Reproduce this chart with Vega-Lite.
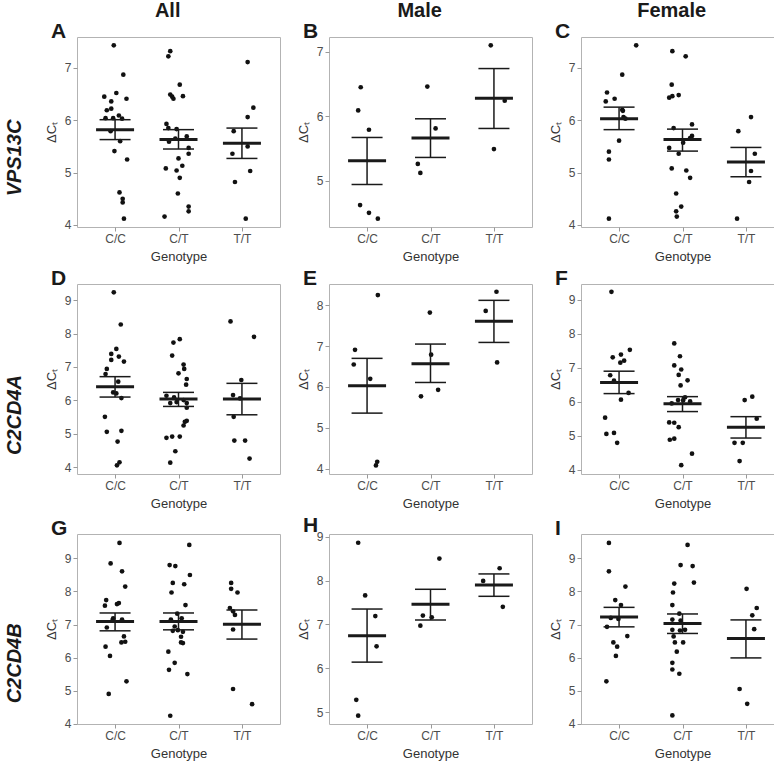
{
"$schema": "https://vega.github.io/schema/vega-lite/v6.json",
"padding": {"left": 4, "top": 0, "right": 0, "bottom": 0},
"background": "white",
"datasets": {
"sum": [
{"p":"A","g":1,"m":5.82,"lo":5.63,"hi":6.01},{"p":"A","g":2,"m":5.63,"lo":5.45,"hi":5.82},{"p":"A","g":3,"m":5.56,"lo":5.27,"hi":5.85},
{"p":"B","g":1,"m":5.31,"lo":4.94,"hi":5.67},{"p":"B","g":2,"m":5.66,"lo":5.36,"hi":5.96},{"p":"B","g":3,"m":6.28,"lo":5.81,"hi":6.74},
{"p":"C","g":1,"m":6.03,"lo":5.82,"hi":6.25},{"p":"C","g":2,"m":5.63,"lo":5.41,"hi":5.83},{"p":"C","g":3,"m":5.20,"lo":4.92,"hi":5.48},
{"p":"D","g":1,"m":6.41,"lo":6.10,"hi":6.71},{"p":"D","g":2,"m":6.04,"lo":5.82,"hi":6.24},{"p":"D","g":3,"m":6.04,"lo":5.57,"hi":6.51},
{"p":"E","g":1,"m":6.03,"lo":5.36,"hi":6.70},{"p":"E","g":2,"m":6.57,"lo":6.11,"hi":7.05},{"p":"E","g":3,"m":7.61,"lo":7.09,"hi":8.12},
{"p":"F","g":1,"m":6.57,"lo":6.24,"hi":6.90},{"p":"F","g":2,"m":5.94,"lo":5.71,"hi":6.15},{"p":"F","g":3,"m":5.25,"lo":4.93,"hi":5.56},
{"p":"G","g":1,"m":7.09,"lo":6.81,"hi":7.35},{"p":"G","g":2,"m":7.09,"lo":6.84,"hi":7.35},{"p":"G","g":3,"m":7.01,"lo":6.56,"hi":7.44},
{"p":"H","g":1,"m":6.74,"lo":6.14,"hi":7.35},{"p":"H","g":2,"m":7.46,"lo":7.10,"hi":7.80},{"p":"H","g":3,"m":7.90,"lo":7.64,"hi":8.15},
{"p":"I","g":1,"m":7.23,"lo":6.93,"hi":7.52},{"p":"I","g":2,"m":7.03,"lo":6.73,"hi":7.32},{"p":"I","g":3,"m":6.58,"lo":5.99,"hi":7.14}
],
"pts": [
{"p":"A","x":0.98,"v":7.43},{"p":"A","x":1.13,"v":6.87},{"p":"A","x":0.83,"v":6.45},{"p":"A","x":1.02,"v":6.52},{"p":"A","x":1.18,"v":6.41},{"p":"A","x":0.94,"v":6.36},{"p":"A","x":0.87,"v":6.19},{"p":"A","x":0.94,"v":6.22},{"p":"A","x":0.85,"v":6.04},{"p":"A","x":0.97,"v":6.04},{"p":"A","x":1.06,"v":6.09},{"p":"A","x":1.11,"v":6.03},{"p":"A","x":0.93,"v":5.79},{"p":"A","x":1.08,"v":5.60},{"p":"A","x":0.99,"v":5.41},{"p":"A","x":1.19,"v":5.25},{"p":"A","x":1.07,"v":4.62},{"p":"A","x":1.12,"v":4.50},{"p":"A","x":1.12,"v":4.43},{"p":"A","x":1.14,"v":4.12},
{"p":"A","x":1.87,"v":7.32},{"p":"A","x":1.84,"v":7.22},{"p":"A","x":2.02,"v":6.68},{"p":"A","x":1.87,"v":6.49},{"p":"A","x":1.90,"v":6.45},{"p":"A","x":1.92,"v":6.41},{"p":"A","x":2.07,"v":6.46},{"p":"A","x":1.81,"v":5.93},{"p":"A","x":1.84,"v":5.85},{"p":"A","x":1.97,"v":5.83},{"p":"A","x":1.85,"v":5.59},{"p":"A","x":1.95,"v":5.65},{"p":"A","x":2.13,"v":5.69},{"p":"A","x":2.16,"v":5.47},{"p":"A","x":2.16,"v":5.36},{"p":"A","x":2.00,"v":5.27},{"p":"A","x":1.80,"v":5.08},{"p":"A","x":2.06,"v":5.13},{"p":"A","x":1.97,"v":5.04},{"p":"A","x":2.02,"v":4.90},{"p":"A","x":1.99,"v":4.60},{"p":"A","x":2.16,"v":4.35},{"p":"A","x":2.16,"v":4.26},{"p":"A","x":1.78,"v":4.16},
{"p":"A","x":3.09,"v":7.11},{"p":"A","x":3.18,"v":6.24},{"p":"A","x":3.09,"v":6.06},{"p":"A","x":2.87,"v":5.79},{"p":"A","x":2.85,"v":5.36},{"p":"A","x":3.09,"v":5.50},{"p":"A","x":3.13,"v":5.03},{"p":"A","x":2.89,"v":4.82},{"p":"A","x":3.06,"v":4.12},
{"p":"B","x":0.90,"v":6.45},{"p":"B","x":0.86,"v":6.09},{"p":"B","x":1.03,"v":5.79},{"p":"B","x":0.89,"v":4.62},{"p":"B","x":1.03,"v":4.50},{"p":"B","x":1.17,"v":4.41},
{"p":"B","x":1.95,"v":6.46},{"p":"B","x":2.08,"v":5.81},{"p":"B","x":1.80,"v":5.26},{"p":"B","x":1.84,"v":5.12},
{"p":"B","x":2.95,"v":7.10},{"p":"B","x":3.17,"v":6.24},{"p":"B","x":3.00,"v":5.49},
{"p":"C","x":1.27,"v":7.43},{"p":"C","x":1.05,"v":6.87},{"p":"C","x":0.81,"v":6.53},{"p":"C","x":0.93,"v":6.41},{"p":"C","x":0.79,"v":6.36},{"p":"C","x":1.05,"v":6.20},{"p":"C","x":1.06,"v":6.18},{"p":"C","x":1.10,"v":6.03},{"p":"C","x":1.07,"v":6.06},{"p":"C","x":1.00,"v":5.61},{"p":"C","x":0.84,"v":5.40},{"p":"C","x":0.84,"v":5.25},{"p":"C","x":0.84,"v":4.12},
{"p":"C","x":1.84,"v":7.32},{"p":"C","x":2.05,"v":7.22},{"p":"C","x":1.83,"v":6.68},{"p":"C","x":1.79,"v":6.43},{"p":"C","x":1.84,"v":6.46},{"p":"C","x":1.94,"v":6.48},{"p":"C","x":2.15,"v":5.92},{"p":"C","x":1.86,"v":5.85},{"p":"C","x":2.15,"v":5.70},{"p":"C","x":2.12,"v":5.66},{"p":"C","x":2.01,"v":5.57},{"p":"C","x":1.79,"v":5.47},{"p":"C","x":1.94,"v":5.36},{"p":"C","x":1.83,"v":5.08},{"p":"C","x":2.06,"v":5.04},{"p":"C","x":2.12,"v":4.90},{"p":"C","x":1.90,"v":4.60},{"p":"C","x":1.98,"v":4.35},{"p":"C","x":1.90,"v":4.26},{"p":"C","x":1.91,"v":4.16},
{"p":"C","x":3.08,"v":6.06},{"p":"C","x":2.88,"v":5.79},{"p":"C","x":3.14,"v":5.36},{"p":"C","x":3.08,"v":5.03},{"p":"C","x":3.05,"v":4.82},{"p":"C","x":2.86,"v":4.12},
{"p":"D","x":0.98,"v":9.23},{"p":"D","x":1.09,"v":8.27},{"p":"D","x":1.02,"v":7.54},{"p":"D","x":0.94,"v":7.39},{"p":"D","x":1.06,"v":7.31},{"p":"D","x":0.94,"v":7.21},{"p":"D","x":1.14,"v":7.16},{"p":"D","x":0.87,"v":6.94},{"p":"D","x":0.85,"v":6.79},{"p":"D","x":1.05,"v":6.56},{"p":"D","x":0.97,"v":6.24},{"p":"D","x":1.02,"v":6.21},{"p":"D","x":1.10,"v":6.07},{"p":"D","x":0.84,"v":5.51},{"p":"D","x":0.87,"v":5.06},{"p":"D","x":1.10,"v":5.09},{"p":"D","x":1.04,"v":4.77},{"p":"D","x":1.07,"v":4.15},{"p":"D","x":1.03,"v":4.06},
{"p":"D","x":2.02,"v":7.83},{"p":"D","x":1.92,"v":7.73},{"p":"D","x":1.90,"v":7.34},{"p":"D","x":2.08,"v":7.07},{"p":"D","x":2.09,"v":6.94},{"p":"D","x":2.00,"v":6.81},{"p":"D","x":2.13,"v":6.64},{"p":"D","x":2.12,"v":6.47},{"p":"D","x":1.81,"v":6.14},{"p":"D","x":1.93,"v":6.09},{"p":"D","x":1.87,"v":5.92},{"p":"D","x":1.97,"v":5.95},{"p":"D","x":2.08,"v":6.01},{"p":"D","x":2.13,"v":5.92},{"p":"D","x":2.13,"v":5.78},{"p":"D","x":2.13,"v":5.39},{"p":"D","x":2.10,"v":5.36},{"p":"D","x":2.08,"v":5.25},{"p":"D","x":1.81,"v":4.88},{"p":"D","x":1.90,"v":4.92},{"p":"D","x":2.02,"v":4.92},{"p":"D","x":1.95,"v":4.48},{"p":"D","x":1.87,"v":4.14},
{"p":"D","x":2.82,"v":8.36},{"p":"D","x":3.19,"v":7.90},{"p":"D","x":2.99,"v":6.61},{"p":"D","x":2.86,"v":6.16},{"p":"D","x":2.97,"v":6.06},{"p":"D","x":2.87,"v":5.51},{"p":"D","x":2.88,"v":4.80},{"p":"D","x":3.05,"v":4.80},{"p":"D","x":3.12,"v":4.26},
{"p":"E","x":1.17,"v":8.25},{"p":"E","x":0.81,"v":6.91},{"p":"E","x":0.79,"v":6.55},{"p":"E","x":1.05,"v":6.20},{"p":"E","x":1.16,"v":4.17},{"p":"E","x":1.14,"v":4.08},
{"p":"E","x":1.99,"v":7.82},{"p":"E","x":2.01,"v":6.79},{"p":"E","x":2.12,"v":5.93},{"p":"E","x":1.85,"v":5.77},
{"p":"E","x":3.04,"v":8.33},{"p":"E","x":2.87,"v":7.86},{"p":"E","x":3.05,"v":6.60},
{"p":"F","x":0.88,"v":9.24},{"p":"F","x":1.17,"v":7.53},{"p":"F","x":1.03,"v":7.39},{"p":"F","x":0.90,"v":7.31},{"p":"F","x":1.08,"v":7.21},{"p":"F","x":1.02,"v":7.15},{"p":"F","x":0.86,"v":6.78},{"p":"F","x":0.92,"v":6.62},{"p":"F","x":1.15,"v":6.26},{"p":"F","x":1.03,"v":6.06},{"p":"F","x":0.78,"v":5.53},{"p":"F","x":0.80,"v":5.05},{"p":"F","x":0.92,"v":5.08},{"p":"F","x":0.97,"v":4.79},
{"p":"F","x":1.87,"v":7.72},{"p":"F","x":1.96,"v":7.34},{"p":"F","x":1.87,"v":7.07},{"p":"F","x":1.98,"v":6.95},{"p":"F","x":1.94,"v":6.79},{"p":"F","x":2.08,"v":6.63},{"p":"F","x":1.97,"v":6.48},{"p":"F","x":2.04,"v":6.13},{"p":"F","x":1.93,"v":6.05},{"p":"F","x":2.01,"v":6.04},{"p":"F","x":2.12,"v":6.01},{"p":"F","x":1.83,"v":5.95},{"p":"F","x":1.79,"v":5.39},{"p":"F","x":1.87,"v":5.38},{"p":"F","x":1.94,"v":5.25},{"p":"F","x":1.80,"v":4.88},{"p":"F","x":1.87,"v":4.91},{"p":"F","x":2.15,"v":4.47},{"p":"F","x":1.98,"v":4.13},
{"p":"F","x":3.10,"v":6.15},{"p":"F","x":2.98,"v":6.05},{"p":"F","x":3.17,"v":5.50},{"p":"F","x":2.82,"v":4.79},{"p":"F","x":2.95,"v":4.79},{"p":"F","x":2.90,"v":4.25},
{"p":"G","x":1.07,"v":9.47},{"p":"G","x":0.93,"v":8.85},{"p":"G","x":1.11,"v":8.61},{"p":"G","x":1.16,"v":8.15},{"p":"G","x":0.86,"v":7.74},{"p":"G","x":0.84,"v":7.57},{"p":"G","x":1.03,"v":7.62},{"p":"G","x":1.06,"v":7.65},{"p":"G","x":0.97,"v":7.19},{"p":"G","x":1.11,"v":7.15},{"p":"G","x":0.96,"v":7.13},{"p":"G","x":0.87,"v":6.91},{"p":"G","x":1.14,"v":6.64},{"p":"G","x":1.10,"v":6.46},{"p":"G","x":1.16,"v":6.48},{"p":"G","x":0.85,"v":6.33},{"p":"G","x":0.92,"v":6.05},{"p":"G","x":1.18,"v":5.28},{"p":"G","x":0.90,"v":4.90},
{"p":"G","x":2.17,"v":9.41},{"p":"G","x":1.86,"v":8.80},{"p":"G","x":1.95,"v":8.77},{"p":"G","x":2.18,"v":8.50},{"p":"G","x":1.91,"v":8.26},{"p":"G","x":2.09,"v":8.22},{"p":"G","x":1.89,"v":7.97},{"p":"G","x":2.11,"v":7.59},{"p":"G","x":1.98,"v":7.33},{"p":"G","x":1.88,"v":7.15},{"p":"G","x":2.05,"v":7.19},{"p":"G","x":1.94,"v":6.94},{"p":"G","x":1.91,"v":6.81},{"p":"G","x":1.99,"v":6.83},{"p":"G","x":2.07,"v":6.78},{"p":"G","x":2.04,"v":6.63},{"p":"G","x":2.04,"v":6.46},{"p":"G","x":2.07,"v":6.44},{"p":"G","x":1.84,"v":6.18},{"p":"G","x":1.94,"v":5.84},{"p":"G","x":1.85,"v":5.63},{"p":"G","x":2.14,"v":5.50},{"p":"G","x":1.87,"v":4.24},
{"p":"G","x":2.83,"v":8.26},{"p":"G","x":2.83,"v":8.08},{"p":"G","x":2.93,"v":7.97},{"p":"G","x":2.81,"v":7.50},{"p":"G","x":2.86,"v":7.40},{"p":"G","x":2.89,"v":7.29},{"p":"G","x":2.86,"v":6.85},{"p":"G","x":2.86,"v":5.05},{"p":"G","x":3.16,"v":4.59},
{"p":"H","x":0.86,"v":8.86},{"p":"H","x":0.97,"v":7.66},{"p":"H","x":1.13,"v":7.19},{"p":"H","x":1.15,"v":6.50},{"p":"H","x":0.83,"v":5.28},{"p":"H","x":0.86,"v":4.92},
{"p":"H","x":2.14,"v":8.50},{"p":"H","x":1.88,"v":7.20},{"p":"H","x":2.02,"v":7.16},{"p":"H","x":1.84,"v":6.97},
{"p":"H","x":3.09,"v":8.28},{"p":"H","x":2.83,"v":7.99},{"p":"H","x":3.14,"v":7.40},
{"p":"I","x":0.84,"v":9.47},{"p":"I","x":0.84,"v":8.61},{"p":"I","x":1.10,"v":8.15},{"p":"I","x":0.94,"v":7.74},{"p":"I","x":1.03,"v":7.59},{"p":"I","x":0.87,"v":7.20},{"p":"I","x":0.99,"v":7.17},{"p":"I","x":0.81,"v":6.93},{"p":"I","x":1.13,"v":6.65},{"p":"I","x":0.91,"v":6.46},{"p":"I","x":0.97,"v":6.33},{"p":"I","x":0.95,"v":6.05},{"p":"I","x":0.80,"v":5.28},
{"p":"I","x":2.08,"v":9.41},{"p":"I","x":1.97,"v":8.80},{"p":"I","x":2.16,"v":8.77},{"p":"I","x":1.87,"v":8.24},{"p":"I","x":2.18,"v":8.27},{"p":"I","x":1.85,"v":7.97},{"p":"I","x":1.84,"v":7.59},{"p":"I","x":1.95,"v":7.33},{"p":"I","x":1.84,"v":7.15},{"p":"I","x":1.97,"v":7.12},{"p":"I","x":1.84,"v":6.84},{"p":"I","x":1.96,"v":6.82},{"p":"I","x":2.04,"v":6.84},{"p":"I","x":1.86,"v":6.64},{"p":"I","x":1.88,"v":6.46},{"p":"I","x":2.01,"v":6.46},{"p":"I","x":1.91,"v":6.18},{"p":"I","x":1.84,"v":5.84},{"p":"I","x":1.84,"v":5.64},{"p":"I","x":1.95,"v":5.51},{"p":"I","x":1.84,"v":4.25},
{"p":"I","x":3.01,"v":8.08},{"p":"I","x":3.17,"v":7.50},{"p":"I","x":3.10,"v":7.28},{"p":"I","x":3.13,"v":6.86},{"p":"I","x":2.90,"v":5.05},{"p":"I","x":3.02,"v":4.60}
]
},
"vconcat": [
{"hconcat": [
 {"vconcat": [
  {"width": 203, "height": 190, "title": {"text": "A"},
   "layer": [
    {"data": {"name": "pts"}, "transform": [{"filter": "datum.p=='A'"}], "mark": "circle",
     "encoding": {"x": {"field": "x", "type": "quantitative", "title": "Genotype", "scale": {"domain": [0.4, 3.6], "nice": false, "zero": false}, "axis": {"values": [1, 2, 3], "labelExpr": "datum.value==1?'C/C':datum.value==2?'C/T':'T/T'"}},
                  "y": {"field": "v", "type": "quantitative", "title": "ΔCₜ", "scale": {"domain": [3.96, 7.59], "nice": false, "zero": false}, "axis": {"values": [4, 5, 6, 7], "format": "d", "tickCount": 12}}}},
    {"data": {"name": "sum"}, "transform": [{"filter": "datum.p=='A'"}], "mark": "rule", "encoding": {"x": {"field": "g", "type": "quantitative", "title": "Genotype"}, "y": {"field": "lo", "type": "quantitative", "title": "ΔCₜ"}, "y2": {"field": "hi"}}},
    {"data": {"name": "sum"}, "transform": [{"filter": "datum.p=='A'"}, {"fold": ["lo", "hi"], "as": ["k", "b"]}], "mark": {"type": "tick", "orient": "horizontal", "size": 31, "thickness": 1.5}, "encoding": {"x": {"field": "g", "type": "quantitative", "title": "Genotype"}, "y": {"field": "b", "type": "quantitative", "title": "ΔCₜ"}}},
    {"data": {"name": "sum"}, "transform": [{"filter": "datum.p=='A'"}], "mark": {"type": "tick", "orient": "horizontal", "size": 38, "thickness": 3}, "encoding": {"x": {"field": "g", "type": "quantitative", "title": "Genotype"}, "y": {"field": "m", "type": "quantitative", "title": "ΔCₜ"}}}
   ]}
 ], "title": {"text": "All", "anchor": "middle", "frame": "bounds", "fontSize": 20, "fontWeight": "bold", "dx": 5, "offset": 0}},
 {"vconcat": [
  {"width": 203, "height": 190, "title": {"text": "B"},
   "layer": [
    {"data": {"name": "pts"}, "transform": [{"filter": "datum.p=='B'"}], "mark": "circle",
     "encoding": {"x": {"field": "x", "type": "quantitative", "title": "Genotype", "scale": {"domain": [0.4, 3.6], "nice": false, "zero": false}, "axis": {"values": [1, 2, 3], "labelExpr": "datum.value==1?'C/C':datum.value==2?'C/T':'T/T'"}},
                  "y": {"field": "v", "type": "quantitative", "title": "ΔCₜ", "scale": {"domain": [4.28, 7.23], "nice": false, "zero": false}, "axis": {"values": [5, 6, 7], "format": "d", "tickCount": 12}}}},
    {"data": {"name": "sum"}, "transform": [{"filter": "datum.p=='B'"}], "mark": "rule", "encoding": {"x": {"field": "g", "type": "quantitative", "title": "Genotype"}, "y": {"field": "lo", "type": "quantitative", "title": "ΔCₜ"}, "y2": {"field": "hi"}}},
    {"data": {"name": "sum"}, "transform": [{"filter": "datum.p=='B'"}, {"fold": ["lo", "hi"], "as": ["k", "b"]}], "mark": {"type": "tick", "orient": "horizontal", "size": 31, "thickness": 1.5}, "encoding": {"x": {"field": "g", "type": "quantitative", "title": "Genotype"}, "y": {"field": "b", "type": "quantitative", "title": "ΔCₜ"}}},
    {"data": {"name": "sum"}, "transform": [{"filter": "datum.p=='B'"}], "mark": {"type": "tick", "orient": "horizontal", "size": 38, "thickness": 3}, "encoding": {"x": {"field": "g", "type": "quantitative", "title": "Genotype"}, "y": {"field": "m", "type": "quantitative", "title": "ΔCₜ"}}}
   ]}
 ], "title": {"text": "Male", "anchor": "middle", "frame": "bounds", "fontSize": 20, "fontWeight": "bold", "dx": 5, "offset": 0}},
 {"vconcat": [
  {"width": 203, "height": 190, "title": {"text": "C"},
   "layer": [
    {"data": {"name": "pts"}, "transform": [{"filter": "datum.p=='C'"}], "mark": "circle",
     "encoding": {"x": {"field": "x", "type": "quantitative", "title": "Genotype", "scale": {"domain": [0.4, 3.6], "nice": false, "zero": false}, "axis": {"values": [1, 2, 3], "labelExpr": "datum.value==1?'C/C':datum.value==2?'C/T':'T/T'"}},
                  "y": {"field": "v", "type": "quantitative", "title": "ΔCₜ", "scale": {"domain": [3.96, 7.59], "nice": false, "zero": false}, "axis": {"values": [4, 5, 6, 7], "format": "d", "tickCount": 12}}}},
    {"data": {"name": "sum"}, "transform": [{"filter": "datum.p=='C'"}], "mark": "rule", "encoding": {"x": {"field": "g", "type": "quantitative", "title": "Genotype"}, "y": {"field": "lo", "type": "quantitative", "title": "ΔCₜ"}, "y2": {"field": "hi"}}},
    {"data": {"name": "sum"}, "transform": [{"filter": "datum.p=='C'"}, {"fold": ["lo", "hi"], "as": ["k", "b"]}], "mark": {"type": "tick", "orient": "horizontal", "size": 31, "thickness": 1.5}, "encoding": {"x": {"field": "g", "type": "quantitative", "title": "Genotype"}, "y": {"field": "b", "type": "quantitative", "title": "ΔCₜ"}}},
    {"data": {"name": "sum"}, "transform": [{"filter": "datum.p=='C'"}], "mark": {"type": "tick", "orient": "horizontal", "size": 38, "thickness": 3}, "encoding": {"x": {"field": "g", "type": "quantitative", "title": "Genotype"}, "y": {"field": "m", "type": "quantitative", "title": "ΔCₜ"}}}
   ]}
 ], "title": {"text": "Female", "anchor": "middle", "frame": "bounds", "fontSize": 20, "fontWeight": "bold", "dx": 5, "offset": 0}}
], "spacing": 15, "title": {"text": "VPS13C", "orient": "left", "anchor": "middle", "frame": "bounds", "fontSize": 20, "fontWeight": "bold", "fontStyle": "italic", "offset": 20}},
{"hconcat": [
  {"width": 203, "height": 190, "title": {"text": "D"},
   "layer": [
    {"data": {"name": "pts"}, "transform": [{"filter": "datum.p=='D'"}], "mark": "circle",
     "encoding": {"x": {"field": "x", "type": "quantitative", "title": "Genotype", "scale": {"domain": [0.4, 3.6], "nice": false, "zero": false}, "axis": {"values": [1, 2, 3], "labelExpr": "datum.value==1?'C/C':datum.value==2?'C/T':'T/T'"}},
                  "y": {"field": "v", "type": "quantitative", "title": "ΔCₜ", "scale": {"domain": [3.80, 9.48], "nice": false, "zero": false}, "axis": {"values": [4, 5, 6, 7, 8, 9], "format": "d", "tickCount": 12}}}},
    {"data": {"name": "sum"}, "transform": [{"filter": "datum.p=='D'"}], "mark": "rule", "encoding": {"x": {"field": "g", "type": "quantitative", "title": "Genotype"}, "y": {"field": "lo", "type": "quantitative", "title": "ΔCₜ"}, "y2": {"field": "hi"}}},
    {"data": {"name": "sum"}, "transform": [{"filter": "datum.p=='D'"}, {"fold": ["lo", "hi"], "as": ["k", "b"]}], "mark": {"type": "tick", "orient": "horizontal", "size": 31, "thickness": 1.5}, "encoding": {"x": {"field": "g", "type": "quantitative", "title": "Genotype"}, "y": {"field": "b", "type": "quantitative", "title": "ΔCₜ"}}},
    {"data": {"name": "sum"}, "transform": [{"filter": "datum.p=='D'"}], "mark": {"type": "tick", "orient": "horizontal", "size": 38, "thickness": 3}, "encoding": {"x": {"field": "g", "type": "quantitative", "title": "Genotype"}, "y": {"field": "m", "type": "quantitative", "title": "ΔCₜ"}}}
   ]},
  {"width": 203, "height": 190, "title": {"text": "E"},
   "layer": [
    {"data": {"name": "pts"}, "transform": [{"filter": "datum.p=='E'"}], "mark": "circle",
     "encoding": {"x": {"field": "x", "type": "quantitative", "title": "Genotype", "scale": {"domain": [0.4, 3.6], "nice": false, "zero": false}, "axis": {"values": [1, 2, 3], "labelExpr": "datum.value==1?'C/C':datum.value==2?'C/T':'T/T'"}},
                  "y": {"field": "v", "type": "quantitative", "title": "ΔCₜ", "scale": {"domain": [3.87, 8.52], "nice": false, "zero": false}, "axis": {"values": [4, 5, 6, 7, 8], "format": "d", "tickCount": 12}}}},
    {"data": {"name": "sum"}, "transform": [{"filter": "datum.p=='E'"}], "mark": "rule", "encoding": {"x": {"field": "g", "type": "quantitative", "title": "Genotype"}, "y": {"field": "lo", "type": "quantitative", "title": "ΔCₜ"}, "y2": {"field": "hi"}}},
    {"data": {"name": "sum"}, "transform": [{"filter": "datum.p=='E'"}, {"fold": ["lo", "hi"], "as": ["k", "b"]}], "mark": {"type": "tick", "orient": "horizontal", "size": 31, "thickness": 1.5}, "encoding": {"x": {"field": "g", "type": "quantitative", "title": "Genotype"}, "y": {"field": "b", "type": "quantitative", "title": "ΔCₜ"}}},
    {"data": {"name": "sum"}, "transform": [{"filter": "datum.p=='E'"}], "mark": {"type": "tick", "orient": "horizontal", "size": 38, "thickness": 3}, "encoding": {"x": {"field": "g", "type": "quantitative", "title": "Genotype"}, "y": {"field": "m", "type": "quantitative", "title": "ΔCₜ"}}}
   ]},
  {"width": 203, "height": 190, "title": {"text": "F"},
   "layer": [
    {"data": {"name": "pts"}, "transform": [{"filter": "datum.p=='F'"}], "mark": "circle",
     "encoding": {"x": {"field": "x", "type": "quantitative", "title": "Genotype", "scale": {"domain": [0.4, 3.6], "nice": false, "zero": false}, "axis": {"values": [1, 2, 3], "labelExpr": "datum.value==1?'C/C':datum.value==2?'C/T':'T/T'"}},
                  "y": {"field": "v", "type": "quantitative", "title": "ΔCₜ", "scale": {"domain": [3.87, 9.47], "nice": false, "zero": false}, "axis": {"values": [4, 5, 6, 7, 8, 9], "format": "d", "tickCount": 12}}}},
    {"data": {"name": "sum"}, "transform": [{"filter": "datum.p=='F'"}], "mark": "rule", "encoding": {"x": {"field": "g", "type": "quantitative", "title": "Genotype"}, "y": {"field": "lo", "type": "quantitative", "title": "ΔCₜ"}, "y2": {"field": "hi"}}},
    {"data": {"name": "sum"}, "transform": [{"filter": "datum.p=='F'"}, {"fold": ["lo", "hi"], "as": ["k", "b"]}], "mark": {"type": "tick", "orient": "horizontal", "size": 31, "thickness": 1.5}, "encoding": {"x": {"field": "g", "type": "quantitative", "title": "Genotype"}, "y": {"field": "b", "type": "quantitative", "title": "ΔCₜ"}}},
    {"data": {"name": "sum"}, "transform": [{"filter": "datum.p=='F'"}], "mark": {"type": "tick", "orient": "horizontal", "size": 38, "thickness": 3}, "encoding": {"x": {"field": "g", "type": "quantitative", "title": "Genotype"}, "y": {"field": "m", "type": "quantitative", "title": "ΔCₜ"}}}
   ]}
], "spacing": 15, "title": {"text": "C2CD4A", "orient": "left", "anchor": "middle", "frame": "bounds", "fontSize": 20, "fontWeight": "bold", "fontStyle": "italic", "offset": 20}},
{"hconcat": [
  {"width": 203, "height": 190, "title": {"text": "G"},
   "layer": [
    {"data": {"name": "pts"}, "transform": [{"filter": "datum.p=='G'"}], "mark": "circle",
     "encoding": {"x": {"field": "x", "type": "quantitative", "title": "Genotype", "scale": {"domain": [0.4, 3.6], "nice": false, "zero": false}, "axis": {"values": [1, 2, 3], "labelExpr": "datum.value==1?'C/C':datum.value==2?'C/T':'T/T'"}},
                  "y": {"field": "v", "type": "quantitative", "title": "ΔCₜ", "scale": {"domain": [3.99, 9.74], "nice": false, "zero": false}, "axis": {"values": [4, 5, 6, 7, 8, 9], "format": "d", "tickCount": 12}}}},
    {"data": {"name": "sum"}, "transform": [{"filter": "datum.p=='G'"}], "mark": "rule", "encoding": {"x": {"field": "g", "type": "quantitative", "title": "Genotype"}, "y": {"field": "lo", "type": "quantitative", "title": "ΔCₜ"}, "y2": {"field": "hi"}}},
    {"data": {"name": "sum"}, "transform": [{"filter": "datum.p=='G'"}, {"fold": ["lo", "hi"], "as": ["k", "b"]}], "mark": {"type": "tick", "orient": "horizontal", "size": 31, "thickness": 1.5}, "encoding": {"x": {"field": "g", "type": "quantitative", "title": "Genotype"}, "y": {"field": "b", "type": "quantitative", "title": "ΔCₜ"}}},
    {"data": {"name": "sum"}, "transform": [{"filter": "datum.p=='G'"}], "mark": {"type": "tick", "orient": "horizontal", "size": 38, "thickness": 3}, "encoding": {"x": {"field": "g", "type": "quantitative", "title": "Genotype"}, "y": {"field": "m", "type": "quantitative", "title": "ΔCₜ"}}}
   ]},
  {"width": 203, "height": 190, "title": {"text": "H"},
   "layer": [
    {"data": {"name": "pts"}, "transform": [{"filter": "datum.p=='H'"}], "mark": "circle",
     "encoding": {"x": {"field": "x", "type": "quantitative", "title": "Genotype", "scale": {"domain": [0.4, 3.6], "nice": false, "zero": false}, "axis": {"values": [1, 2, 3], "labelExpr": "datum.value==1?'C/C':datum.value==2?'C/T':'T/T'"}},
                  "y": {"field": "v", "type": "quantitative", "title": "ΔCₜ", "scale": {"domain": [4.73, 9.06], "nice": false, "zero": false}, "axis": {"values": [5, 6, 7, 8, 9], "format": "d", "tickCount": 12}}}},
    {"data": {"name": "sum"}, "transform": [{"filter": "datum.p=='H'"}], "mark": "rule", "encoding": {"x": {"field": "g", "type": "quantitative", "title": "Genotype"}, "y": {"field": "lo", "type": "quantitative", "title": "ΔCₜ"}, "y2": {"field": "hi"}}},
    {"data": {"name": "sum"}, "transform": [{"filter": "datum.p=='H'"}, {"fold": ["lo", "hi"], "as": ["k", "b"]}], "mark": {"type": "tick", "orient": "horizontal", "size": 31, "thickness": 1.5}, "encoding": {"x": {"field": "g", "type": "quantitative", "title": "Genotype"}, "y": {"field": "b", "type": "quantitative", "title": "ΔCₜ"}}},
    {"data": {"name": "sum"}, "transform": [{"filter": "datum.p=='H'"}], "mark": {"type": "tick", "orient": "horizontal", "size": 38, "thickness": 3}, "encoding": {"x": {"field": "g", "type": "quantitative", "title": "Genotype"}, "y": {"field": "m", "type": "quantitative", "title": "ΔCₜ"}}}
   ]},
  {"width": 203, "height": 190, "title": {"text": "I"},
   "layer": [
    {"data": {"name": "pts"}, "transform": [{"filter": "datum.p=='I'"}], "mark": "circle",
     "encoding": {"x": {"field": "x", "type": "quantitative", "title": "Genotype", "scale": {"domain": [0.4, 3.6], "nice": false, "zero": false}, "axis": {"values": [1, 2, 3], "labelExpr": "datum.value==1?'C/C':datum.value==2?'C/T':'T/T'"}},
                  "y": {"field": "v", "type": "quantitative", "title": "ΔCₜ", "scale": {"domain": [3.99, 9.74], "nice": false, "zero": false}, "axis": {"values": [4, 5, 6, 7, 8, 9], "format": "d", "tickCount": 12}}}},
    {"data": {"name": "sum"}, "transform": [{"filter": "datum.p=='I'"}], "mark": "rule", "encoding": {"x": {"field": "g", "type": "quantitative", "title": "Genotype"}, "y": {"field": "lo", "type": "quantitative", "title": "ΔCₜ"}, "y2": {"field": "hi"}}},
    {"data": {"name": "sum"}, "transform": [{"filter": "datum.p=='I'"}, {"fold": ["lo", "hi"], "as": ["k", "b"]}], "mark": {"type": "tick", "orient": "horizontal", "size": 31, "thickness": 1.5}, "encoding": {"x": {"field": "g", "type": "quantitative", "title": "Genotype"}, "y": {"field": "b", "type": "quantitative", "title": "ΔCₜ"}}},
    {"data": {"name": "sum"}, "transform": [{"filter": "datum.p=='I'"}], "mark": {"type": "tick", "orient": "horizontal", "size": 38, "thickness": 3}, "encoding": {"x": {"field": "g", "type": "quantitative", "title": "Genotype"}, "y": {"field": "m", "type": "quantitative", "title": "ΔCₜ"}}}
   ]}
], "spacing": 15, "title": {"text": "C2CD4B", "orient": "left", "anchor": "middle", "frame": "bounds", "fontSize": 20, "fontWeight": "bold", "fontStyle": "italic", "offset": 20}}
],
"spacing": 3,
"config": {
 "font": "Liberation Sans",
 "view": {"stroke": "#b3b3b3", "strokeWidth": 1},
 "axis": {"grid": false, "domain": false, "tickColor": "#999999", "tickSize": 4, "tickWidth": 1, "labelColor": "#4d4d4d", "labelFontSize": 12, "labelFont": "Liberation Sans", "titleFont": "Liberation Sans", "titleFontSize": 13, "titleFontWeight": "normal", "titleColor": "#333333"},
 "axisX": {"labelPadding": 2, "titlePadding": 6},
 "axisY": {"labelPadding": 2, "titlePadding": 6},
 "title": {"font": "Liberation Sans", "color": "#1a1a1a", "fontSize": 21, "fontWeight": "bold", "anchor": "start", "frame": "group", "dx": -26, "offset": -5},
 "circle": {"size": 22, "opacity": 1, "color": "#111111"},
 "rule": {"strokeWidth": 1.5, "color": "#1a1a1a"},
 "tick": {"color": "#1a1a1a", "opacity": 1}
}
}
